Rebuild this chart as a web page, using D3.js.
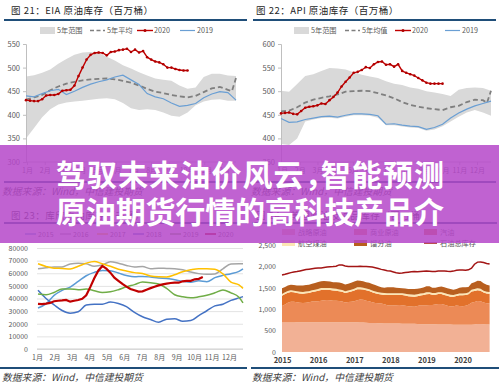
<!DOCTYPE html>
<html>
<head>
<meta content="text/html;charset=utf-8" http-equiv="Content-Type">
<script type="text/javascript" src="https://d3js.org/d3.v7.min.js"></script>
<style>
  body { margin: 0; background: #ffffff; }
  svg text { font-family: "Noto Sans CJK SC", "DejaVu Sans", sans-serif; }
</style>
</head>
<body>
<script type="text/javascript">
//==================== data ====================
var monthLabels = ["1月","2月","3月","4月","5月","6月","7月","8月","9月","10月","11月","12月"];

// top charts: band / average / 2019 every 2 weeks, 2020 weekly (index = week)
var bandWeeks = [0,2,4,6,8,10,12,14,16,18,20,22,24,26,28,30,32,34,36,38,40,42,44,46,48,50,52];
var avgWeeks  = [0,2,4,6,8,10,12,14,16,18,20,22,24,26,28,30,32,34,36,38,40,42,44,46,48,50,51,52];

var eiaMax  = [481,484,489,496,508,518,527,532,533,531,523,515,505,498,490,483,477,474,472,462,455,458,480,487,487,483,482];
var eiaMin  = [350,372,395,412,422,426,428,430,432,434,435,433,425,414,410,412,410,405,398,396,405,420,428,432,433,430,430];
var eiaAvg  = [432,437,442,452,460,466,470,473,475,476,477,475,472,468,462,455,449,446,442,439,437,440,448,456,459,453,450,478];
var eia2019 = [440,438,445,451,454,443,450,458,465,470,474,480,484,474,464,445,438,434,425,418,420,424,436,444,449,447,431];
var eia2020 = [431,430,429,429,433,441,442,442,444,451,452,453,462,482,500,517,527,531,532,531,
               526,533,534,537,538,540,533,538,532,535,522,517,513,511,507,500,500,497,495,494,494];

var apiMax  = [501,499,515,532,536,543,549,548,546,540,535,531,528,521,516,513,508,505,500,497,494,490,503,507,508,507,501];
var apiMin  = [388,386,400,436,440,443,444,442,446,449,449,448,444,428,428,425,423,422,416,419,426,436,446,455,460,455,448];
var apiAvg  = [457,459,466,476,482,486,489,493,499,500,501,500,496,491,485,477,471,467,464,462,460,466,469,477,482,481,475,501];
var api2019 = [442,434,435,440,443,446,447,445,449,452,452,451,448,430,431,428,426,425,419,423,430,443,454,462,469,474,479];
var api2020 = [453,454,455,452,451,458,465,467,468,470,474,473,481,488,497,510,520,529,539,541,
               545,551,549,557,562,563,556,557,552,557,543,539,536,533,528,523,518,516,516,516,516];

// Cushing stocks (千桶), past years every 2 weeks, 2020 weekly
var cushWeeks = [0,2,4,6,8,10,12,14,16,18,20,22,24,26,28,30,32,34,36,38,40,42,44,46,48,50,51];
var cush2015 = [32500,35700,42500,46500,49000,53500,58000,60700,62200,62000,60200,58300,57200,57500,57000,56200,55900,54800,53600,52800,54000,53300,56500,58300,59600,61500,63500];
var cush2016 = [63600,64400,65000,65000,67400,68000,67500,65600,66500,69200,68000,66200,65000,65300,63600,64000,63800,63600,62800,61000,59700,59200,59500,63500,67300,67500,67500];
var cush2017 = [67500,65400,64000,63800,63400,65500,68000,69400,67500,65500,63200,61800,60500,59800,57800,57200,57100,58800,61200,62700,63600,63600,63200,59500,53000,50800,48000];
var cush2018 = [46500,40000,35000,30500,28400,29500,34800,35500,35500,37200,36000,33500,29000,25500,23300,21200,23600,24000,22000,22500,26500,30300,34200,35500,38500,40500,41500];
var cush2019 = [43500,42900,44800,47600,47600,46900,47500,46200,44800,45300,47000,49300,51000,53000,52500,51500,48000,43000,41300,40500,41300,42500,44500,46800,44500,41000,36500];
var cush2020 = [35800,35500,35900,36500,37800,38200,38500,38900,37500,38200,38800,39800,42500,49000,56000,62000,65800,63600,60500,56500,
                54000,51500,49400,47500,46500,45500,45700,47000,48200,49300,50400,51200,51800,52300,52600,52500,53600,54000,54000,55200,55600,57000];
var cushYears = ["2015","2016","2017","2018","2019","2020"];

// US stocks (百万桶), monthly from 2015-01 to 2020-10
var sprStock = [691,691,691,691,691,693,695,695,695,695,695,695, 695,695,695,695,695,695,695,695,695,694,695,695,
                695,694,692,688,684,679,679,678,674,671,666,663, 664,664,665,665,660,660,660,660,660,656,651,649,
                649,649,649,649,645,645,644,644,644,639,636,635, 635,635,635,636,640,652,656,650,644,642];
var crudeStock = [385,420,460,485,485,468,455,452,455,470,485,485, 490,500,515,520,515,505,500,495,485,465,475,480,
                  490,515,535,530,515,505,485,465,465,460,450,432, 420,420,428,432,435,420,410,405,397,420,443,442,
                  445,450,452,460,478,478,458,436,420,428,448,440, 432,443,470,515,530,538,530,505,495,490];
var gasStock = [240,245,236,228,218,216,218,216,220,215,222,232, 245,256,243,237,240,239,238,230,226,222,226,236,
                250,259,242,243,241,241,232,228,216,214,218,236, 247,250,240,236,234,240,234,234,236,229,228,240,
                258,257,237,229,230,233,232,232,228,223,225,250, 258,254,246,262,258,254,248,233,228,227];
var jetStock = [38,39,38,40,40,41,42,41,42,41,40,40, 42,43,44,45,44,43,44,43,43,41,41,42,
                43,43,43,41,41,42,43,42,41,40,42,40, 40,40,40,39,41,43,43,42,42,43,42,42,
                42,42,41,41,42,42,43,43,43,43,43,41, 40,40,39,42,42,44,45,45,43,43];
var distStock = [135,125,128,128,130,138,145,152,155,148,155,160, 162,161,161,155,151,150,152,158,160,153,158,163,
                 168,157,150,150,147,152,150,151,142,128,128,143, 140,138,128,123,117,120,124,130,137,127,123,135,
                 140,138,124,125,126,134,138,137,139,120,120,135, 145,140,130,150,158,175,178,175,160,150];
var totalStock = [1800,1815,1835,1855,1870,1880,1895,1910,1925,1935,1945,1955, 1960,1965,1975,1985,1990,1995,2005,2035,2030,2010,2000,1995,
                  1995,2000,2005,2000,1995,1990,1985,1970,1950,1930,1915,1900, 1890,1870,1850,1840,1845,1855,1865,1875,1880,1875,1880,1885,
                  1890,1885,1880,1880,1890,1895,1895,1885,1880,1890,1910,1915, 1915,1910,1920,1960,2050,2100,2105,2090,2070,2055];
var stockKeys = ["战略原油","商业原油","汽油","航空煤油","馏分油"];

//==================== drawing ====================
var navy = "#1f4e79", axisGrey = "#bfbfbf", labelGrey = "#595959";

var svg = d3.select("body").append("svg")
  .attr("width", 499)
  .attr("height", 388);
svg.append("rect").attr("width", 499).attr("height", 388).attr("fill", "#ffffff");

// dark rule under titles / above sources
function rule(x1, x2, y) {
  svg.append("line")
    .attr("x1", x1).attr("x2", x2).attr("y1", y).attr("y2", y)
    .attr("stroke", navy).attr("stroke-width", 2);
}
function title(x, y, t) {
  svg.append("text").attr("x", x).attr("y", y)
    .attr("font-size", 9.5).attr("letter-spacing", 0.5)
    .attr("fill", "#262626").text(t);
}
function source(x, y) {
  svg.append("text").attr("x", x).attr("y", y)
    .attr("font-size", 9.8).attr("font-style", "italic")
    .attr("font-family", "'Liberation Serif', 'Noto Sans CJK SC', serif")
    .attr("fill", "#404040").text("数据来源：Wind，中信建投期货");
}
function styleAxis(g, size) {
  g.selectAll("text").attr("fill", labelGrey).attr("font-size", size)
    .attr("font-family", "'Liberation Sans', 'Noto Sans CJK SC', sans-serif");
  g.selectAll("line").attr("stroke", axisGrey);
  g.select(".domain").attr("stroke", axisGrey);
}

//---------------- top charts: inventory vs 5 year range ----------------
function rangeChart(p) {
  var x = d3.scaleLinear().domain([0, 52]).range([p.left, p.left + 210]);
  var y = d3.scaleLinear().domain(p.yDomain).range([162, 44]);
  var xm = d3.scalePoint().domain(monthLabels).range([p.left + 1, p.left + 196]);

  title(p.titleX, 13.5, p.title);
  rule(p.ox + 4, p.ox + 247, 20);

  // 5 year range band
  svg.append("path").datum(bandWeeks)
    .attr("fill", "#d9d9d9")
    .attr("d", d3.area()
      .x(function(d) { return x(d); })
      .y0(function(d, i) { return y(p.min[i]); })
      .y1(function(d, i) { return y(p.max[i]); }));

  // axes
  var ya = svg.append("g").attr("transform", "translate(" + p.left + ",0)")
    .call(d3.axisLeft(y).tickValues(p.yTicks).tickSize(3).tickPadding(3));
  styleAxis(ya, 7.5);
  svg.append("line").attr("x1", p.left).attr("x2", p.left + 210)
    .attr("y1", 162).attr("y2", 162).attr("stroke", axisGrey);
  var xa = svg.append("g").attr("transform", "translate(0,162)")
    .call(d3.axisBottom(xm).tickSize(3).tickPadding(3));
  xa.select(".domain").remove();
  styleAxis(xa, 7);

  // 5 year average
  svg.append("path").datum(avgWeeks)
    .attr("fill", "none").attr("stroke", "#7f7f7f")
    .attr("stroke-width", 1.8).attr("stroke-dasharray", "5,3")
    .attr("d", d3.line()
      .x(function(d) { return x(d); })
      .y(function(d, i) { return y(p.avg[i]); }));

  // 2019
  svg.append("path").datum(bandWeeks)
    .attr("fill", "none").attr("stroke", "#6a9fd4").attr("stroke-width", 1.2)
    .attr("d", d3.line()
      .x(function(d) { return x(d); })
      .y(function(d, i) { return y(p.y2019[i]); }));

  // 2020 with weekly markers
  svg.append("path").datum(p.y2020)
    .attr("fill", "none").attr("stroke", "#c00000").attr("stroke-width", 1.4)
    .attr("d", d3.line()
      .x(function(d, i) { return x(i); })
      .y(function(d) { return y(d); }));
  svg.selectAll(null).data(p.y2020).enter().append("circle")
    .attr("cx", function(d, i) { return x(i); })
    .attr("cy", function(d) { return y(d); })
    .attr("r", 1.3).attr("fill", "#b00000");

  // legend
  var lg = p.legendX;
  svg.append("rect").attr("x", lg[0]).attr("y", 27).attr("width", 15).attr("height", 7).attr("fill", "#d9d9d9");
  svg.append("line").attr("x1", lg[1]).attr("x2", lg[1] + 15).attr("y1", 30.5).attr("y2", 30.5)
    .attr("stroke", "#7f7f7f").attr("stroke-width", 1.6).attr("stroke-dasharray", "4,2.5");
  svg.append("line").attr("x1", lg[2]).attr("x2", lg[2] + 16).attr("y1", 30.5).attr("y2", 30.5)
    .attr("stroke", "#c00000").attr("stroke-width", 1.4);
  svg.append("circle").attr("cx", lg[2] + 8).attr("cy", 30.5).attr("r", 1.5).attr("fill", "#b00000");
  svg.append("line").attr("x1", lg[3]).attr("x2", lg[3] + 15).attr("y1", 30.5).attr("y2", 30.5)
    .attr("stroke", "#6a9fd4").attr("stroke-width", 1.2);
  p.legendText.forEach(function(t, i) {
    svg.append("text").attr("x", lg[i] + 17).attr("y", 33.2)
      .attr("font-size", 7.2).attr("fill", labelGrey).text(t);
  });

  rule(p.ox + 4, p.ox + 247, 182);
  source(p.ox + 2, 195);
}

rangeChart({
  ox: 0, left: 26, titleX: 11, title: "图 21：EIA 原油库存（百万桶）",
  yDomain: [300, 550], yTicks: [300, 350, 400, 450, 500, 550],
  max: eiaMax, min: eiaMin, avg: eiaAvg, y2019: eia2019, y2020: eia2020,
  legendX: [40, 90, 137, 180], legendText: ["5年范围", "5年平均", "2020", "2019"]
});
rangeChart({
  ox: 249, left: 281, titleX: 256, title: "图 22：API 原油库存（百万桶）",
  yDomain: [350, 600], yTicks: [350, 400, 450, 500, 550, 600],
  max: apiMax, min: apiMin, avg: apiAvg, y2019: api2019, y2020: api2020,
  legendX: [294, 345, 395, 445], legendText: ["5年范围", "5年均值", "2020", "2019"]
});

//---------------- bottom left: Cushing stocks by year ----------------
var cx = d3.scaleLinear().domain([0, 51]).range([38, 243]);
var cy = d3.scaleLinear().domain([0, 80000]).range([349, 248]);
var cxm = d3.scalePoint().domain(monthLabels).range([37, 229]);
var cushColors = ["#5b9bd5", "#a5a5a5", "#ffc000", "#4472c4", "#70ad47", "#c00000"];
var cushPast = [cush2015, cush2016, cush2017, cush2018, cush2019];

title(11, 218.5, "图 23：库欣原油库存（千桶）");
rule(4, 247, 223);

var cgrid = svg.append("g").attr("transform", "translate(37,0)")
  .call(d3.axisLeft(cy).tickValues([0,10000,20000,30000,40000,50000,60000,70000,80000])
    .tickSize(-206).tickPadding(9).tickFormat(d3.format("d")));
cgrid.select(".domain").remove();
styleAxis(cgrid, 7);
cgrid.selectAll("line").attr("stroke", "#e3e3e3");
var cxa = svg.append("g").attr("transform", "translate(0,349)")
  .call(d3.axisBottom(cxm).tickSize(0).tickPadding(6));
cxa.select(".domain").remove();
styleAxis(cxa, 7);
svg.append("line").attr("x1", 37).attr("x2", 243).attr("y1", 349).attr("y2", 349).attr("stroke", "#d0d0d0");

cushPast.forEach(function(s, k) {
  svg.append("path").datum(cushWeeks)
    .attr("fill", "none").attr("stroke", cushColors[k]).attr("stroke-width", 1.5)
    .attr("d", d3.line().curve(d3.curveMonotoneX)
      .x(function(d) { return cx(d); })
      .y(function(d, i) { return cy(s[i]); }));
});
svg.append("path").datum(cush2020)
  .attr("fill", "none").attr("stroke", cushColors[5]).attr("stroke-width", 2.2)
  .attr("d", d3.line()
    .x(function(d, i) { return cx(i); })
    .y(function(d) { return cy(d); }));

var cushLegendX = [25, 60, 97, 133, 170, 205];
cushYears.forEach(function(t, i) {
  svg.append("line").attr("x1", cushLegendX[i]).attr("x2", cushLegendX[i] + 11)
    .attr("y1", 234).attr("y2", 234).attr("stroke", cushColors[i]).attr("stroke-width", i == 5 ? 2 : 1.5);
  svg.append("text").attr("x", cushLegendX[i] + 13).attr("y", 236.6)
    .attr("font-size", 7).attr("fill", labelGrey).text(t);
});

rule(0, 247, 368);
source(2, 381);

//---------------- bottom right: US crude and products stacked ----------------
var months = d3.timeMonth.range(new Date(2015, 0, 1), new Date(2020, 10, 1));
var table = months.map(function(m, i) {
  return { date: m, "战略原油": sprStock[i], "商业原油": crudeStock[i], "汽油": gasStock[i],
           "航空煤油": jetStock[i], "馏分油": distStock[i], total: totalStock[i] };
});
var sx = d3.scaleTime().domain([new Date(2015, 0, 1), new Date(2020, 9, 15)]).range([282, 491]);
var sy = d3.scaleLinear().domain([0, 2500]).range([352, 245]);
var stackColors = ["#f2b195", "#ec8a56", "#e2712b", "#fce6b4", "#b85f1f"];
var layers = d3.stack().keys(stockKeys)(table);

title(256, 218.5, "图 24：美国原油及油品库存（百万桶）");
rule(252, 497, 223);

svg.selectAll(null).data(layers).enter().append("path")
  .attr("fill", function(d, i) { return stackColors[i]; })
  .attr("d", d3.area()
    .x(function(d) { return sx(d.data.date); })
    .y0(function(d) { return sy(d[0]); })
    .y1(function(d) { return sy(d[1]); }));
svg.append("path").datum(table)
  .attr("fill", "none").attr("stroke", "#a31515").attr("stroke-width", 1.5)
  .attr("d", d3.line()
    .x(function(d) { return sx(d.date); })
    .y(function(d) { return sy(d.total); }));

var sya = svg.append("g").attr("transform", "translate(282,0)")
  .call(d3.axisLeft(sy).tickValues([0, 500, 1000, 1500, 2000, 2500]).tickSize(0).tickPadding(6));
sya.select(".domain").remove();
styleAxis(sya, 7);
var sxa = svg.append("g").attr("transform", "translate(0,352)")
  .call(d3.axisBottom(sx).ticks(d3.timeYear).tickFormat(d3.timeFormat("%Y")).tickSize(0).tickPadding(6));
sxa.select(".domain").remove();
styleAxis(sxa, 7.5);
sxa.selectAll("text").attr("fill", "#404040").attr("font-weight", "bold");

var stockLegend = [
  { name: "战略原油", x: 282, y: 232, color: stackColors[0], kind: "box" },
  { name: "商业原油", x: 354, y: 232, color: stackColors[1], kind: "box" },
  { name: "汽油",     x: 424, y: 232, color: stackColors[2], kind: "box" },
  { name: "航空煤油", x: 282, y: 243, color: stackColors[3], kind: "box" },
  { name: "馏分油",   x: 354, y: 243, color: stackColors[4], kind: "box" },
  { name: "石油总库存", x: 424, y: 243, color: "#a31515", kind: "line" }
];
stockLegend.forEach(function(d) {
  if (d.kind == "box") {
    svg.append("rect").attr("x", d.x).attr("y", d.y - 3).attr("width", 13).attr("height", 6).attr("fill", d.color);
  } else {
    svg.append("line").attr("x1", d.x).attr("x2", d.x + 13).attr("y1", d.y).attr("y2", d.y)
      .attr("stroke", d.color).attr("stroke-width", 1.5);
  }
  svg.append("text").attr("x", d.x + 16).attr("y", d.y + 2.6)
    .attr("font-size", 7.2).attr("fill", labelGrey).text(d.name);
});

rule(251, 499, 368);
source(252, 381);

//---------------- purple banner with headline ----------------
svg.append("rect")
  .attr("x", 0).attr("y", 145).attr("width", 499).attr("height", 98)
  .attr("fill", "rgb(182,72,202)").attr("opacity", 0.86);
var headline = ["驾驭未来油价风云，智能预测", "原油期货行情的高科技产品介"];
headline.forEach(function(t, i) {
  svg.append("text")
    .attr("x", 250).attr("y", 186 + i * 37)
    .attr("text-anchor", "middle")
    .attr("font-size", 30).attr("font-weight", "bold")
    .attr("textLength", 388).attr("lengthAdjust", "spacing")
    .style("font-feature-settings", "'halt'")
    .attr("fill", "#ffffff").text(t);
});
</script>
</body>
</html>
